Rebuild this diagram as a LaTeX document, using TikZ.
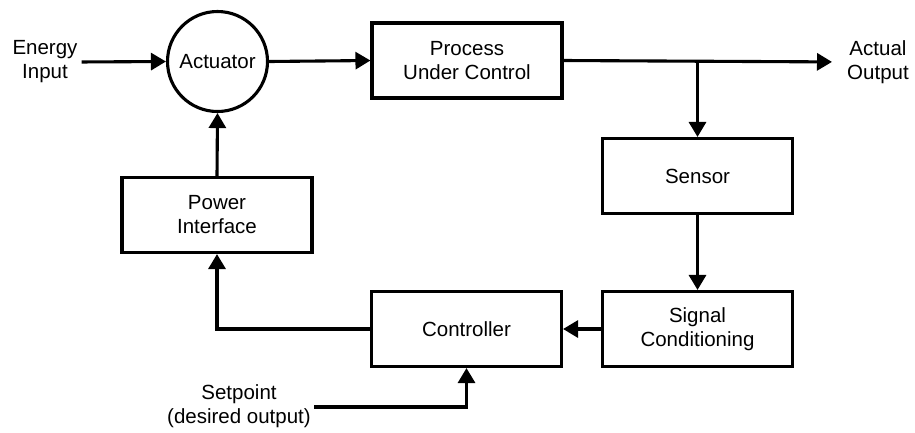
\documentclass[tikz,border=0pt]{standalone}
\usepackage{fontspec}
\setmainfont{Liberation Sans}
\usetikzlibrary{arrows.meta}
\begin{document}
\begin{tikzpicture}[x=1pt,y=-1pt,
  font=\fontsize{20.5}{24}\selectfont,
  every node/.style={text=black},
  blockbox/.style={draw, line width=3.1pt, minimum width=190pt, minimum height=75pt, align=center, inner sep=0pt},
  lbl/.style={align=center, inner sep=0pt},
  conn/.style={line width=3.1pt, line join=miter, -{Triangle[length=15pt,width=17pt]}},
  plain/.style={line width=3.1pt, line join=miter}]
\useasboundingbox (0,0) rectangle (915,432);
\node[draw, circle, line width=3.1pt, minimum size=100pt, inner sep=0pt] (act) at (217.5,61.5) {Actuator};
\node[blockbox] (proc) at (467,60.5) {Process\\Under Control};
\node[blockbox] (sens) at (697.5,176) {Sensor};
\node[blockbox] (sig) at (697.5,329) {Signal\\Conditioning};
\node[blockbox] (ctrl) at (466.5,329) {Controller};
\node[blockbox] (pi) at (217,215) {Power\\Interface};
\node[lbl] (energy) at (45,62) {Energy\\Input};
\node[lbl, anchor=west] (out) at (847,62) {Actual\\Output};
\node[lbl] (sp) at (239,406) {Setpoint\\(desired output)};
\coordinate (spstart) at (314,407);
\coordinate (br) at (sens.north |- proc.east);
\draw[conn, shorten <=4pt] (energy.east) -- (act.west);
\draw[conn] (act.east) -- (proc.west);
\draw[conn, shorten >=15pt] (proc.east) -- (out.west);
\draw[conn] (br) -- (sens.north);
\draw[conn] (sens.south) -- (sig.north);
\draw[conn] (sig.west) -- (ctrl.east);
\draw[conn] (ctrl.west) -| (pi.south);
\draw[conn] (pi.north) -- (act.south);
\draw[conn] (spstart) -| (ctrl.south);
\end{tikzpicture}
\end{document}
